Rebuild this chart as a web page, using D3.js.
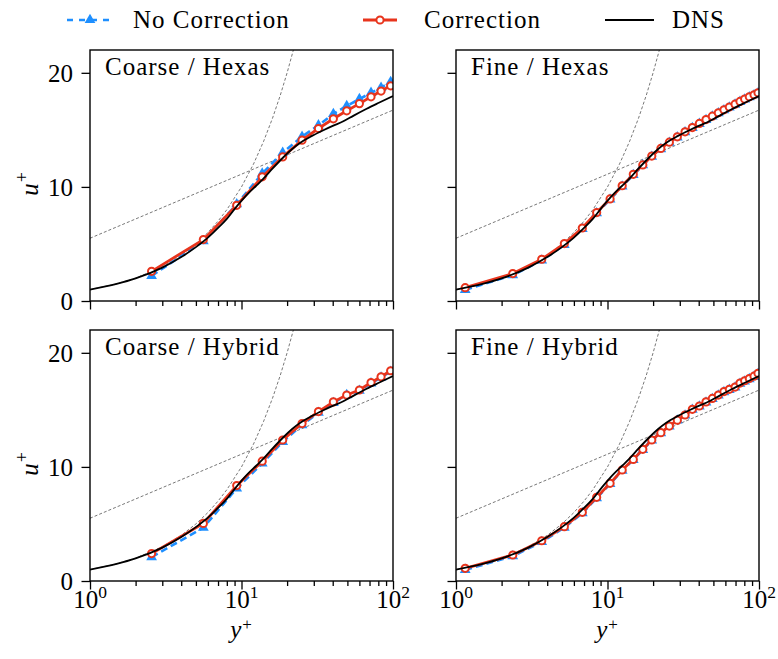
<!DOCTYPE html>
<html>
<head>
<meta charset="utf-8">
<script src="https://cdn.jsdelivr.net/npm/d3@7/dist/d3.min.js"></script>
<style>
  body { margin: 0; background: #fff; }
  text { font-family: "Liberation Serif", serif; fill: #000; letter-spacing: 1px; }
</style>
</head>
<body>
<div id="chart"></div>
<script>
// grid points (y+) of the two meshes
var yCoarse = [2.55, 5.6, 9.3, 13.7, 18.7, 25.1, 32.2, 40.4, 49.5, 60, 71.6, 83.4, 96.5];
var yFine = [1.15, 2.37, 3.68, 5.19, 6.82, 8.48, 10.4, 12.5, 14.8, 17.1, 19.6, 22.5, 25.6, 28.9,
  32.5, 36.3, 40.4, 44.7, 49.2, 53.9, 58.7, 63.7, 69.5, 74.9, 80.4, 86.3, 92.7, 98.5];

// u+ values
var coarseHexasNo = [2.2, 5.25, 8.48, 11.17, 13.0, 14.4, 15.4, 16.4, 17.1, 17.7, 18.25, 18.7, 19.2];
var coarseHexasCorr = [2.6, 5.38, 8.39, 10.88, 12.63, 14.1, 15.12, 15.97, 16.67, 17.3, 17.9, 18.4, 18.86];
var coarseHybridNo = [2.1, 4.67, 8.12, 10.3, 12.2, 13.67, 14.75, 15.6, 16.3, 16.68, 17.33, 17.85, 18.35];
var coarseHybridCorr = [2.4, 5.05, 8.36, 10.5, 12.36, 13.8, 14.85, 15.7, 16.3, 16.74, 17.4, 17.9, 18.43];

var fineHexasNo = [0.98, 2.27, 3.55, 4.92, 6.32, 7.7, 8.9, 10.05, 11.05, 11.9, 12.65, 13.32, 13.88, 14.35,
  14.8, 15.17, 15.53, 15.87, 16.17, 16.47, 16.73, 16.97, 17.22, 17.46, 17.67, 17.87, 18.04, 18.22];
var fineHexasCorr = [1.17, 2.4, 3.66, 5.03, 6.4, 7.75, 8.95, 10.1, 11.1, 11.93, 12.7, 13.37, 13.92, 14.39,
  14.83, 15.2, 15.56, 15.9, 16.2, 16.5, 16.76, 17.0, 17.25, 17.49, 17.7, 17.9, 18.07, 18.25];
var fineHybridNo = [0.98, 2.17, 3.42, 4.68, 5.95, 7.27, 8.5, 9.68, 10.62, 11.5, 12.32, 12.96, 13.55, 14.07,
  14.52, 15.02, 15.3, 15.66, 15.96, 16.26, 16.56, 16.76, 16.96, 17.3, 17.5, 17.7, 17.9, 18.15];
var fineHybridCorr = [1.11, 2.28, 3.53, 4.76, 6.02, 7.33, 8.56, 9.73, 10.66, 11.54, 12.36, 13.0, 13.58, 14.1,
  14.55, 15.05, 15.34, 15.7, 16.0, 16.3, 16.6, 16.8, 17.0, 17.35, 17.55, 17.75, 17.95, 18.2];

// DNS reference profile
var dnsY = [1, 1.5, 2, 3, 4, 5, 6, 7, 8, 9.3, 11, 12.5, 13.9, 16, 18.9, 21.5, 24.3, 29, 34.7, 40, 47, 55, 67, 80, 100];
var dnsU = [1.0, 1.5, 1.98, 2.93, 3.85, 4.72, 5.55, 6.4, 7.2, 8.3, 9.4, 10.1, 10.7, 11.6, 12.6, 13.3, 13.85,
  14.45, 14.97, 15.35, 15.75, 16.25, 16.85, 17.35, 17.96];

// guide lines: u+ = y+ and log law
var kappa = 0.41;
var logB = 5.5;
var guideY = [1, 1.5, 2, 3, 4, 5, 6, 7, 8, 10, 12, 14, 16, 18, 20, 22, 25, 30, 40, 60, 100];

var xTicks = [1, 10, 100];
var xMinor = [2, 3, 4, 5, 6, 7, 8, 9, 20, 30, 40, 50, 60, 70, 80, 90];
var yTicks = [0, 10, 20];

var blue = "#1e8fff";
var red = "#e8341c";

var panels = [
  { title: "Coarse / Hexas", left: 90, top: 50, yp: yCoarse, no: coarseHexasNo, corr: coarseHexasCorr },
  { title: "Fine / Hexas", left: 456, top: 50, yp: yFine, no: fineHexasNo, corr: fineHexasCorr },
  { title: "Coarse / Hybrid", left: 90, top: 330, yp: yCoarse, no: coarseHybridNo, corr: coarseHybridCorr },
  { title: "Fine / Hybrid", left: 456, top: 330, yp: yFine, no: fineHybridNo, corr: fineHybridCorr }
];

var pw = 303;
var ph = 251;
var fs = 25;

var svg = d3.select("#chart").append("svg").attr("width", 778).attr("height", 659);

var triangle = d3.symbol().type(d3.symbolTriangle).size(50);

panels.forEach(function (p, i) {
  drawPanel(p, i);
});

function drawPanel(p, i) {
  var x = d3.scaleLog().domain([1, 100]).range([0, pw]);
  var y = d3.scaleLinear().domain([0, 22]).range([ph, 0]);
  var isLeft = i % 2 == 0;
  var isBottom = i >= 2;

  var g = svg.append("g").attr("transform", "translate(" + p.left + "," + p.top + ")");

  g.append("clipPath").attr("id", "clip" + i)
    .append("rect").attr("width", pw).attr("height", ph);

  var plot = g.append("g").attr("clip-path", "url(#clip" + i + ")");

  var line = d3.line()
    .x(function (d) { return x(d[0]); })
    .y(function (d) { return y(d[1]); });

  // viscous sublayer and log law
  plot.append("path")
    .attr("d", line(guideY.map(function (d) { return [d, d]; })))
    .attr("fill", "none").attr("stroke", "#555").attr("stroke-width", 0.8)
    .attr("stroke-dasharray", "3,2");
  plot.append("path")
    .attr("d", line(guideY.map(function (d) { return [d, Math.log(d) / kappa + logB]; })))
    .attr("fill", "none").attr("stroke", "#555").attr("stroke-width", 0.8)
    .attr("stroke-dasharray", "3,2");

  var noPts = p.yp.map(function (d, k) { return [d, p.no[k]]; });
  var corrPts = p.yp.map(function (d, k) { return [d, p.corr[k]]; });

  plot.append("path").attr("d", line(noPts))
    .attr("fill", "none").attr("stroke", blue).attr("stroke-width", 2.6)
    .attr("stroke-dasharray", "7,4");
  plot.selectAll(".tri").data(noPts).enter().append("path")
    .attr("class", "tri")
    .attr("d", triangle)
    .attr("transform", function (d) { return "translate(" + x(d[0]) + "," + y(d[1]) + ")"; })
    .attr("fill", blue);

  plot.append("path").attr("d", line(corrPts))
    .attr("fill", "none").attr("stroke", red).attr("stroke-width", 2.8);
  plot.selectAll(".circ").data(corrPts).enter().append("circle")
    .attr("class", "circ")
    .attr("cx", function (d) { return x(d[0]); })
    .attr("cy", function (d) { return y(d[1]); })
    .attr("r", 3.6)
    .attr("fill", "#fff").attr("stroke", red).attr("stroke-width", 2);

  plot.append("path")
    .attr("d", line.curve(d3.curveMonotoneX)(dnsY.map(function (d, k) { return [d, dnsU[k]]; })))
    .attr("fill", "none").attr("stroke", "#000").attr("stroke-width", 1.8);

  // axes
  var xMajor = g.append("g").attr("transform", "translate(0," + ph + ")")
    .call(d3.axisBottom(x).tickValues(xTicks).tickSize(8.5).tickFormat(""));
  var xMin = g.append("g").attr("transform", "translate(0," + ph + ")")
    .call(d3.axisBottom(x).tickValues(xMinor).tickSize(5).tickFormat(""));
  var yAx = g.append("g")
    .call(d3.axisLeft(y).tickValues(yTicks).tickSize(8.5).tickFormat(isLeft ? d3.format("d") : ""));

  [xMajor, xMin, yAx].forEach(function (a) {
    a.select(".domain").remove();
    a.selectAll("line").attr("stroke", "#000").attr("stroke-width", 1.3);
  });
  yAx.selectAll("text").attr("font-size", fs).attr("x", -17).attr("dy", "0.34em")
    .style("font-family", "Liberation Serif").style("letter-spacing", "0px").attr("fill", "#000");

  if (isBottom) {
    xTicks.forEach(function (t, k) {
      var lbl = g.append("text")
        .attr("x", x(t)).attr("y", ph + 27)
        .attr("text-anchor", "middle")
        .attr("font-size", fs).style("letter-spacing", "0px");
      lbl.append("tspan").text("10");
      lbl.append("tspan").attr("dy", -10).attr("font-size", 17.5).text(k);
    });
    var xl = g.append("text")
      .attr("x", pw / 2).attr("y", ph + 57)
      .attr("text-anchor", "middle").attr("font-size", fs);
    xl.append("tspan").attr("font-style", "italic").text("y");
    xl.append("tspan").attr("dy", -8).attr("font-size", 17).text("+");
  }

  if (isLeft) {
    var yl = g.append("text")
      .attr("transform", "translate(-52," + (ph / 2 + 8) + ")rotate(-90)")
      .attr("text-anchor", "middle").attr("font-size", fs);
    yl.append("tspan").attr("font-style", "italic").text("u");
    yl.append("tspan").attr("dy", -10).attr("font-size", 18).text("+");
  }

  g.append("rect").attr("width", pw).attr("height", ph)
    .attr("fill", "none").attr("stroke", "#000").attr("stroke-width", 1.4);

  g.append("text").attr("x", 15).attr("y", 25)
    .attr("font-size", fs).text(p.title);
}

// legend
var legend = svg.append("g");
var ly = 20;
legend.append("line").attr("x1", 67).attr("x2", 114).attr("y1", ly).attr("y2", ly)
  .attr("stroke", blue).attr("stroke-width", 2.6).attr("stroke-dasharray", "6,6");
legend.append("path").attr("d", triangle).attr("transform", "translate(90," + ly + ")").attr("fill", blue);
legend.append("text").attr("x", 133).attr("y", ly + 8).attr("font-size", fs).text("No Correction");

legend.append("line").attr("x1", 363).attr("x2", 397).attr("y1", ly).attr("y2", ly)
  .attr("stroke", red).attr("stroke-width", 2.8);
legend.append("circle").attr("cx", 380).attr("cy", ly).attr("r", 3.6)
  .attr("fill", "#fff").attr("stroke", red).attr("stroke-width", 2);
legend.append("text").attr("x", 424).attr("y", ly + 8).attr("font-size", fs).text("Correction");

legend.append("line").attr("x1", 605).attr("x2", 654).attr("y1", ly).attr("y2", ly)
  .attr("stroke", "#000").attr("stroke-width", 1.8);
legend.append("text").attr("x", 672).attr("y", ly + 8).attr("font-size", fs).text("DNS");
</script>
</body>
</html>
